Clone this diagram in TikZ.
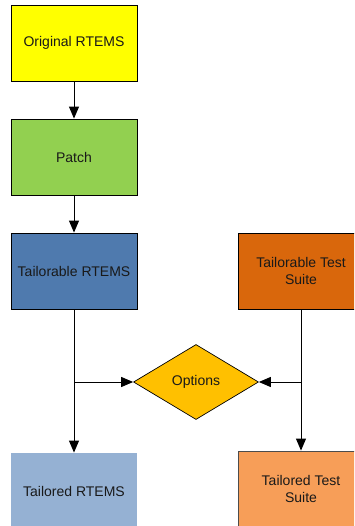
\documentclass[tikz,border=0pt]{standalone}
\usepackage{fontspec}
\setmainfont{Liberation Sans}
\usetikzlibrary{arrows.meta,shapes.geometric}
\definecolor{cyellow}{HTML}{FFFF00}
\definecolor{cgreen}{HTML}{92D050}
\definecolor{cblue}{HTML}{4F7AAE}
\definecolor{corange}{HTML}{D9670C}
\definecolor{cgold}{HTML}{FFC000}
\definecolor{clblue}{HTML}{95B1D3}
\definecolor{clorange}{HTML}{F79E58}
\begin{document}
\begin{tikzpicture}[x=1pt,y=-1pt,
  font=\fontsize{14}{17}\selectfont,
  box/.style={rectangle,draw=black,line width=0.9pt,minimum width=126pt,minimum height=76pt,inner sep=2pt,align=center,text=black!90},
  opt/.style={diamond,draw=black,line width=0.7pt,minimum width=125pt,minimum height=75pt,inner sep=0pt,text=black!90},
  arr/.style={line width=1pt,-{Triangle[length=12pt,width=10pt]}},
  ln/.style={line width=1pt}]
\path[use as bounding box,clip] (0,0) rectangle (354,526);
\node[box,fill=cyellow] (orig) at (74,43) {Original RTEMS};
\node[box,fill=cgreen] (patch) at (74,157) {Patch};
\node[box,fill=cblue] (tr) at (74,271) {Tailorable RTEMS};
\node[box,fill=corange] (tts) at (301,271) {Tailorable Test\\Suite};
\node[opt,fill=cgold] (opt) at (196,382) {Options};
\node[box,draw=none,fill=clblue] (tdr) at (74,491) {Tailored RTEMS};
\node[box,draw=black!70,fill=clorange] (tdts) at (301,489) {Tailored Test\\Suite};
\coordinate (j1) at (74,382);
\coordinate (j2) at (301,382);
\draw[arr] (orig) -- (patch);
\draw[arr] (patch) -- (tr);
\draw[arr] (tr.south) -- (tdr.north);
\draw[arr] (tts.south) -- (tdts.north);
\draw[arr] (j1) -- (opt.west);
\draw[arr] (j2) -- (opt.east);
\end{tikzpicture}
\end{document}
